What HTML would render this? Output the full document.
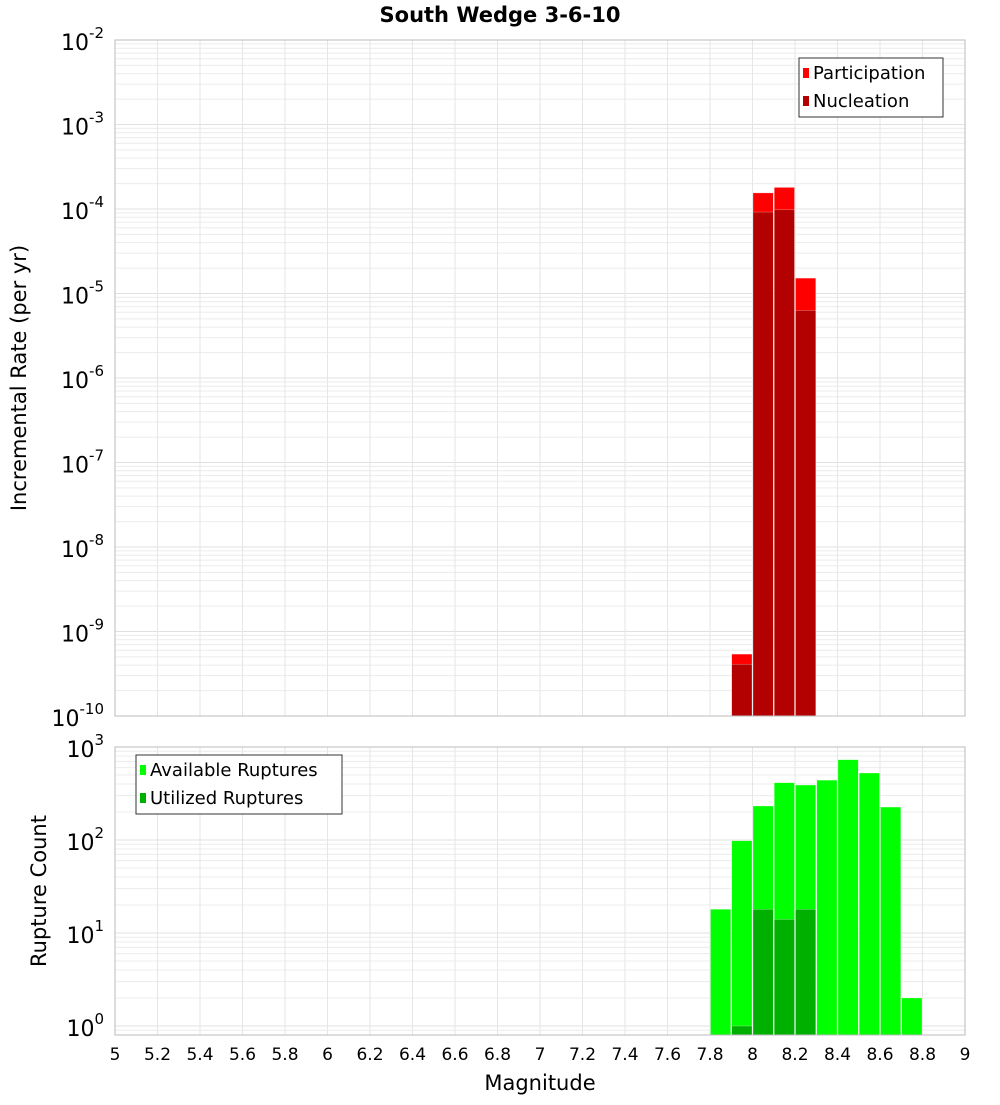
<!DOCTYPE html>
<html><head><meta charset="utf-8"><style>
body{margin:0;background:#fff;font-family:"Liberation Sans","DejaVu Sans",sans-serif}
svg text{font-family:"DejaVu Sans","Liberation Sans",sans-serif}
</style></head><body>
<svg id="c" width="1000" height="1100" xmlns="http://www.w3.org/2000/svg">
<text x="500" y="22" text-anchor="middle" font-size="21" font-weight="bold">South Wedge 3-6-10</text>
<text transform="translate(26,378) rotate(-90)" text-anchor="middle" font-size="21">Incremental Rate (per yr)</text>
<text transform="translate(46,891) rotate(-90)" text-anchor="middle" font-size="21">Rupture Count</text>
<text x="540" y="1090" text-anchor="middle" font-size="21">Magnitude</text>
</svg>
<script>
const topMags=[7.9,8.0,8.1,8.2];
const participation=[5.4e-10,1.55e-4,1.8e-4,1.52e-5];
const nucleation=[4.1e-10,9.2e-5,9.8e-5,6.3e-6];
const botMags=[7.8,7.9,8.0,8.1,8.2,8.3,8.4,8.5,8.6,8.7];
const available=[18,98,232,413,390,440,730,525,226,2];
const utilMags=[7.9,8.0,8.1,8.2];
const utilized=[1,18,14,18];
const xTicks=[5,5.2,5.4,5.6,5.8,6,6.2,6.4,6.6,6.8,7,7.2,7.4,7.6,7.8,8,8.2,8.4,8.6,8.8,9];
const topExps=[-2,-3,-4,-5,-6,-7,-8,-9,-10];
const botExps=[3,2,1,0];

const svg=document.getElementById('c');
const NS='http://www.w3.org/2000/svg';
function mk(t,a,p){const e=document.createElementNS(NS,t);for(const k in a)e.setAttribute(k,a[k]);(p||svg).appendChild(e);return e;}
const X0=115,X1=965;
const x=m=>X0+(m-5)/4*(X1-X0);
const T0=40,T1=716;
const yT=v=>T0+(-2-Math.log10(v))*(T1-T0)/8;
const B0=747,B1=1035,BD=93;
const yB=v=>B0+(3-Math.log10(v))*BD;

function grid(y0,y1,expHi,expLo,yf){
  const g=mk('g',{});
  
  
  for(let e=expLo-1;e<expHi;e++)for(let k=1;k<10;k++){const yy=yf(k*Math.pow(10,e));if(yy<y0-0.5||yy>y1+0.5)continue;
    mk('line',{x1:X0,x2:X1,y1:yy,y2:yy,stroke:k==1?'#e0e0e0':'#ececec','stroke-width':1},g);}
  xTicks.forEach(t=>mk('line',{x1:x(t),x2:x(t),y1:y0,y2:y1,stroke:'#e6e6e6'},g));
}
grid(T0,T1,-2,-10,yT);
grid(B0,B1,3,-1,yB);

function bar(m,v,yf,base,fill,name){
  const r=mk('rect',{x:x(m)+0.5,y:yf(v),width:x(m+0.1)-x(m)-1,height:base-yf(v),fill:fill,stroke:'#fff','stroke-opacity':0.5,'stroke-width':0.5});
  
  
}
topMags.forEach((m,i)=>bar(m,participation[i],yT,T1,'#ff0000','participation-bar'));
topMags.forEach((m,i)=>bar(m,nucleation[i],yT,T1,'#b30000','nucleation-bar'));
botMags.forEach((m,i)=>bar(m,available[i],yB,B1,'#00ff00','available-bar'));
utilMags.forEach((m,i)=>bar(m,utilized[i],yB,B1,'#00b000','utilized-bar'));

mk('rect',{x:X0,y:T0,width:X1-X0,height:T1-T0,fill:'none',stroke:'#bbb'});
mk('rect',{x:X0,y:B0,width:X1-X0,height:B1-B0,fill:'none',stroke:'#bbb'});

function ylab(e,yy){
  const t=mk('text',{x:104,y:yy+10,'text-anchor':'end','font-size':22});
  
  
  t.innerHTML='10<tspan dy="-12" font-size="15">'+e+'</tspan>';
}
topExps.forEach(e=>ylab(e,yT(Math.pow(10,e))));
botExps.forEach(e=>ylab(e,yB(Math.pow(10,e))));
xTicks.forEach(t=>{const l=mk('text',{x:x(t),y:1060,'text-anchor':'middle','font-size':17});
  
  
  l.textContent=String(t);});

function legend(bx,by,w,items,name){
  const g=mk('g',{});
  
  
  mk('rect',{x:bx,y:by,width:w,height:59,fill:'#fff',stroke:'#333'},g);
  items.forEach((it,i)=>{mk('rect',{x:bx+4,y:by+10+i*28,width:6,height:10,fill:it[1]},g);
    const t=mk('text',{x:bx+14,y:by+21+i*28,'font-size':18},g);t.textContent=it[0];});
}
legend(799,58,144,[['Participation','#ff0000'],['Nucleation','#b30000']],'top-legend');
legend(136,755,206,[['Available Ruptures','#00ff00'],['Utilized Ruptures','#00b000']],'bottom-legend');
</script>
</body></html>
